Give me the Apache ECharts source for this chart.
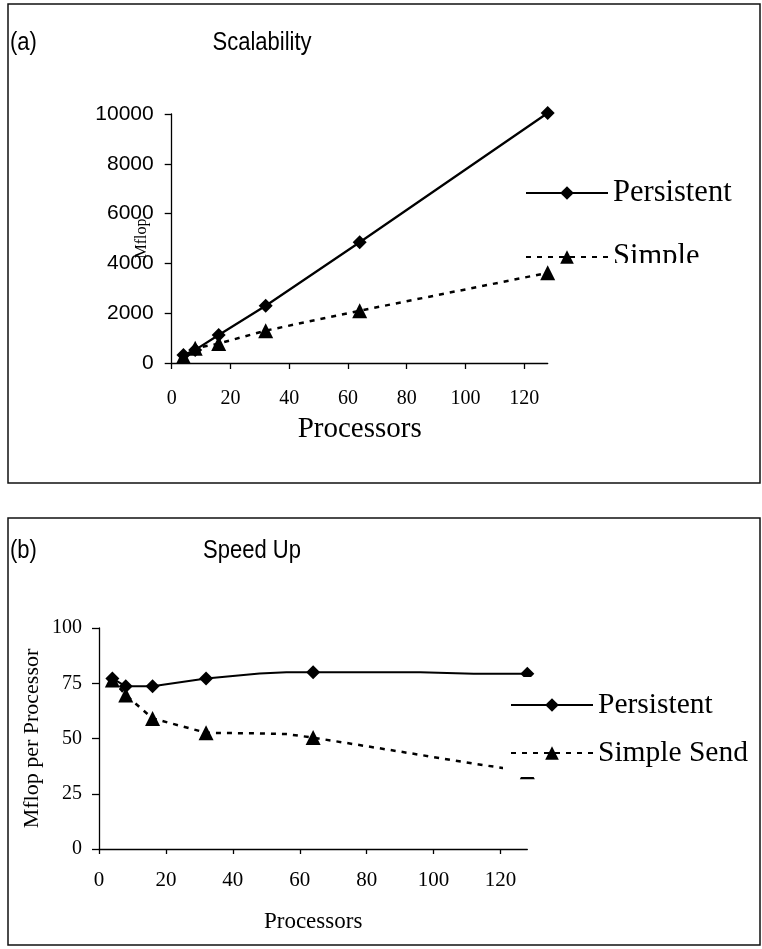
<!DOCTYPE html>
<html><head><meta charset="utf-8">
<script src="https://cdn.jsdelivr.net/npm/echarts@6/dist/echarts.min.js"></script>
<style>html,body{margin:0;padding:0;background:#fff}#c{width:762px;height:949px}</style>
</head><body><div id="c"></div>
<script>
// ---- data ----
const procs = [4, 8, 16, 32, 64, 128];
const mflopPersistent = [320, 525, 1125, 2300, 4850, 10040];
const mflopSimple = [260, 590, 780, 1300, 2100, 3620];
const speedProcs = [4, 8, 16, 32, 48, 56, 64, 96, 112, 128];
const perProcPersistent = [77.2, 73.6, 73.6, 77.2, 79.4, 80, 80, 80, 79.3, 79.3];
const perProcSimple = [76.5, 69.7, 59.1, 52.6, 52.3, 52, 50.4, 42.6, 38.6, 35];
const xTicks = [0, 20, 40, 60, 80, 100, 120];
const mflopTicks = [0, 2000, 4000, 6000, 8000, 10000];
const perProcTicks = [0, 25, 50, 75, 100];
const namesA = ['Persistent', 'Simple'];
const namesB = ['Persistent', 'Simple Send'];

const SERIF = 'Liberation Serif';
const SANS = 'Liberation Sans';
const plain = v => String(v);

function axisBase(extra) {
  return Object.assign({
    type: 'value',
    splitLine: { show: false },
    axisLine: { show: true, onZero: false, lineStyle: { color: '#000', width: 1.3 } },
    nameMoveOverlap: false
  }, extra);
}

const chart = echarts.init(document.getElementById('c'), null, { renderer: 'canvas' });
const option = {
  animation: false,
  backgroundColor: '#fff',
  grid: [
    { left: 171.7, top: 114, width: 376, height: 249 },
    { left: 99, top: 628, width: 428.3, height: 221 }
  ],
  xAxis: [
    axisBase({
      gridIndex: 0, min: 0, max: 128, interval: 20,
      axisTick: { show: true, length: 6, customValues: xTicks, lineStyle: { color: '#000', width: 1.3 } },
      axisLabel: { customValues: xTicks, formatter: plain, margin: 26, color: '#000', fontFamily: SERIF, fontSize: 20 },
      name: 'Processors', nameLocation: 'middle', nameGap: 52,
      nameTextStyle: { color: '#000', fontFamily: SERIF, fontSize: 29 }
    }),
    axisBase({
      gridIndex: 1, min: 0, max: 128, interval: 20,
      axisTick: { show: true, length: 5, customValues: xTicks, lineStyle: { color: '#000', width: 1.3 } },
      axisLabel: { customValues: xTicks, formatter: plain, margin: 21, color: '#000', fontFamily: SERIF, fontSize: 21 },
      name: 'Processors', nameLocation: 'middle', nameGap: 61,
      nameTextStyle: { color: '#000', fontFamily: SERIF, fontSize: 23 }
    })
  ],
  yAxis: [
    axisBase({
      gridIndex: 0, min: 0, max: 10000, interval: 2000,
      axisTick: { show: true, length: 7, customValues: mflopTicks, lineStyle: { color: '#000', width: 1.3 } },
      axisLabel: { customValues: mflopTicks, formatter: plain, margin: 18, color: '#000', fontFamily: SANS, fontSize: 21 },
      name: 'Mflop', nameLocation: 'middle', nameGap: 22,
      nameTextStyle: { color: '#000', fontFamily: SERIF, fontSize: 16 }
    }),
    axisBase({
      gridIndex: 1, min: 0, max: 100, interval: 25,
      axisTick: { show: true, length: 7, customValues: perProcTicks, lineStyle: { color: '#000', width: 1.3 } },
      axisLabel: { customValues: perProcTicks, formatter: plain, margin: 17, color: '#000', fontFamily: SERIF, fontSize: 20 },
      name: 'Mflop per Processor', nameLocation: 'middle', nameGap: 56,
      nameTextStyle: { color: '#000', fontFamily: SERIF, fontSize: 22 }
    })
  ],
  legend: [
    {
      data: namesA, orient: 'vertical', left: 525, top: 177, padding: 0,
      itemWidth: 82, itemHeight: 17, itemGap: 32,
      textStyle: { color: '#000', fontFamily: SERIF, fontSize: 30.5, lineHeight: 32 },
      selectedMode: false
    },
    {
      data: namesB, orient: 'vertical', left: 503, top: 677, padding: [12, 14, 8, 7],
      backgroundColor: '#fff',
      itemWidth: 82, itemHeight: 17, itemGap: 16,
      textStyle: { color: '#000', fontFamily: SERIF, fontSize: 29.5, lineHeight: 32 },
      selectedMode: false
    }
  ],
  series: [
    {
      name: namesA[0], type: 'line', xAxisIndex: 0, yAxisIndex: 0, z: 3, clip: false,
      data: procs.map((p, i) => [p, mflopPersistent[i]]),
      symbol: 'diamond', symbolSize: 14,
      lineStyle: { color: '#000', width: 2.2 }, itemStyle: { color: '#000' }
    },
    {
      name: namesA[1], type: 'line', xAxisIndex: 0, yAxisIndex: 0, z: 2, clip: false,
      data: procs.map((p, i) => [p, mflopSimple[i]]),
      symbol: 'triangle', symbolSize: 15,
      lineStyle: { color: '#000', width: 2.5, type: [5, 6] }, itemStyle: { color: '#000' }
    },
    {
      name: namesB[0], type: 'line', xAxisIndex: 1, yAxisIndex: 1, z: 3, clip: false,
      data: speedProcs.map((p, i) => ({ value: [p, perProcPersistent[i]], symbol: procs.includes(p) ? 'diamond' : 'none' })),
      symbol: 'diamond', symbolSize: 14,
      lineStyle: { color: '#000', width: 2 }, itemStyle: { color: '#000' }
    },
    {
      name: namesB[1], type: 'line', xAxisIndex: 1, yAxisIndex: 1, z: 2, clip: false,
      data: speedProcs.map((p, i) => ({ value: [p, perProcSimple[i]], symbol: procs.includes(p) ? 'triangle' : 'none' })),
      symbol: 'triangle', symbolSize: 15,
      lineStyle: { color: '#000', width: 2.5, type: [5, 6] }, itemStyle: { color: '#000' }
    }
  ],
  graphic: [
    { type: 'rect', z: 10, silent: true, shape: { x: 605, y: 263, width: 140, height: 24 }, style: { fill: '#fff' } },
    { type: 'rect', z: 100, silent: true, shape: { x: 8, y: 4, width: 752, height: 479 }, style: { fill: 'none', stroke: '#111', lineWidth: 1.5 } },
    { type: 'rect', z: 100, silent: true, shape: { x: 8, y: 518, width: 752, height: 427 }, style: { fill: 'none', stroke: '#111', lineWidth: 1.5 } },
    { type: 'text', z: 100, x: 10, y: 43, scaleX: 0.88, style: { text: '(a)', fontSize: 25, fontFamily: SANS, fill: '#000', align: 'left', verticalAlign: 'middle' } },
    { type: 'text', z: 100, x: 262, y: 43, scaleX: 0.88, style: { text: 'Scalability', fontSize: 25, fontFamily: SANS, fill: '#000', align: 'center', verticalAlign: 'middle' } },
    { type: 'text', z: 100, x: 10, y: 551, scaleX: 0.88, style: { text: '(b)', fontSize: 25, fontFamily: SANS, fill: '#000', align: 'left', verticalAlign: 'middle' } },
    { type: 'text', z: 100, x: 252, y: 551, scaleX: 0.88, style: { text: 'Speed Up', fontSize: 25, fontFamily: SANS, fill: '#000', align: 'center', verticalAlign: 'middle' } }
  ]
};
chart.setOption(option);
</script>
</body></html>
